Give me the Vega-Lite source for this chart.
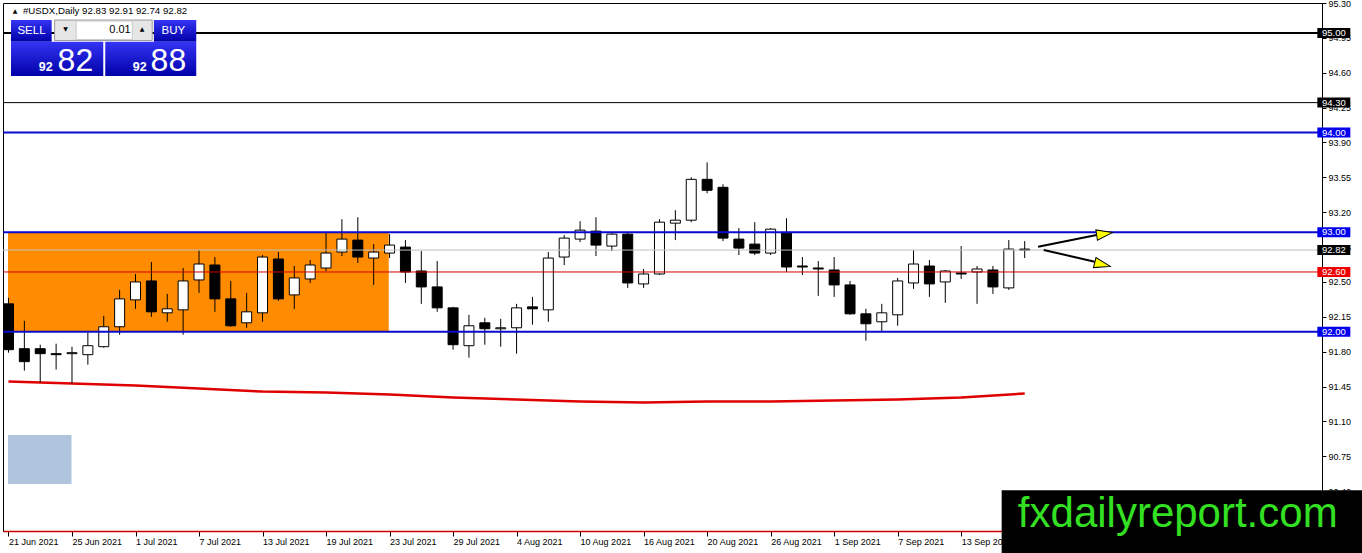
{
  "$schema": "https://vega.github.io/schema/vega-lite/v6.json",
  "description": "USDX daily candlestick chart, 21 Jun 2021 to 17 Sep 2021, with horizontal levels and range box.",
  "width": 1319,
  "height": 528,
  "autosize": {"type": "none"},
  "padding": {"left": 3, "top": 3, "right": 40, "bottom": 22},
  "background": "white",
  "config": {
    "view": {"stroke": "#000000", "strokeWidth": 1},
    "axis": {"labelOverlap": false, "labelSeparation": 0}
  },
  "datasets": {
    "candles": [
      {"i":0,"d":"2021-06-21","o":92.28,"h":92.34,"l":91.79,"c":91.82},
      {"i":1,"d":"2021-06-22","o":91.83,"h":92.11,"l":91.61,"c":91.70},
      {"i":2,"d":"2021-06-23","o":91.83,"h":91.87,"l":91.49,"c":91.78},
      {"i":3,"d":"2021-06-24","o":91.78,"h":91.88,"l":91.62,"c":91.77},
      {"i":4,"d":"2021-06-25","o":91.78,"h":91.85,"l":91.48,"c":91.79},
      {"i":5,"d":"2021-06-28","o":91.77,"h":91.99,"l":91.67,"c":91.86},
      {"i":6,"d":"2021-06-29","o":91.85,"h":92.16,"l":91.84,"c":92.05},
      {"i":7,"d":"2021-06-30","o":92.05,"h":92.42,"l":91.97,"c":92.33},
      {"i":8,"d":"2021-07-01","o":92.32,"h":92.58,"l":92.23,"c":92.50},
      {"i":9,"d":"2021-07-02","o":92.51,"h":92.70,"l":92.15,"c":92.20},
      {"i":10,"d":"2021-07-05","o":92.19,"h":92.38,"l":92.10,"c":92.23},
      {"i":11,"d":"2021-07-06","o":92.22,"h":92.64,"l":91.97,"c":92.51},
      {"i":12,"d":"2021-07-07","o":92.52,"h":92.82,"l":92.39,"c":92.68},
      {"i":13,"d":"2021-07-08","o":92.67,"h":92.75,"l":92.20,"c":92.33},
      {"i":14,"d":"2021-07-09","o":92.33,"h":92.51,"l":92.05,"c":92.06},
      {"i":15,"d":"2021-07-12","o":92.09,"h":92.39,"l":92.04,"c":92.20},
      {"i":16,"d":"2021-07-13","o":92.19,"h":92.77,"l":92.10,"c":92.75},
      {"i":17,"d":"2021-07-14","o":92.73,"h":92.80,"l":92.31,"c":92.33},
      {"i":18,"d":"2021-07-15","o":92.37,"h":92.66,"l":92.23,"c":92.54},
      {"i":19,"d":"2021-07-16","o":92.53,"h":92.72,"l":92.49,"c":92.67},
      {"i":20,"d":"2021-07-19","o":92.64,"h":92.99,"l":92.61,"c":92.79},
      {"i":21,"d":"2021-07-20","o":92.80,"h":93.13,"l":92.76,"c":92.93},
      {"i":22,"d":"2021-07-21","o":92.92,"h":93.15,"l":92.69,"c":92.75},
      {"i":23,"d":"2021-07-22","o":92.74,"h":92.88,"l":92.47,"c":92.80},
      {"i":24,"d":"2021-07-23","o":92.79,"h":92.98,"l":92.74,"c":92.87},
      {"i":25,"d":"2021-07-26","o":92.85,"h":92.92,"l":92.49,"c":92.60},
      {"i":26,"d":"2021-07-27","o":92.61,"h":92.81,"l":92.28,"c":92.45},
      {"i":27,"d":"2021-07-28","o":92.45,"h":92.71,"l":92.20,"c":92.24},
      {"i":28,"d":"2021-07-29","o":92.24,"h":92.25,"l":91.82,"c":91.87},
      {"i":29,"d":"2021-07-30","o":91.86,"h":92.17,"l":91.74,"c":92.06},
      {"i":30,"d":"2021-08-02","o":92.09,"h":92.14,"l":91.87,"c":92.03},
      {"i":31,"d":"2021-08-03","o":92.03,"h":92.13,"l":91.85,"c":92.04},
      {"i":32,"d":"2021-08-04","o":92.04,"h":92.28,"l":91.78,"c":92.24},
      {"i":33,"d":"2021-08-05","o":92.25,"h":92.35,"l":92.07,"c":92.23},
      {"i":34,"d":"2021-08-06","o":92.22,"h":92.80,"l":92.10,"c":92.74},
      {"i":35,"d":"2021-08-09","o":92.75,"h":92.97,"l":92.67,"c":92.94},
      {"i":36,"d":"2021-08-10","o":92.93,"h":93.11,"l":92.90,"c":93.02},
      {"i":37,"d":"2021-08-11","o":93.01,"h":93.15,"l":92.76,"c":92.87},
      {"i":38,"d":"2021-08-12","o":92.86,"h":92.99,"l":92.81,"c":92.98},
      {"i":39,"d":"2021-08-13","o":92.98,"h":92.99,"l":92.44,"c":92.49},
      {"i":40,"d":"2021-08-16","o":92.48,"h":92.63,"l":92.44,"c":92.58},
      {"i":41,"d":"2021-08-17","o":92.58,"h":93.13,"l":92.57,"c":93.10},
      {"i":42,"d":"2021-08-18","o":93.09,"h":93.22,"l":92.92,"c":93.12},
      {"i":43,"d":"2021-08-19","o":93.12,"h":93.55,"l":93.10,"c":93.53},
      {"i":44,"d":"2021-08-20","o":93.53,"h":93.70,"l":93.39,"c":93.42},
      {"i":45,"d":"2021-08-23","o":93.45,"h":93.48,"l":92.91,"c":92.94},
      {"i":46,"d":"2021-08-24","o":92.93,"h":93.04,"l":92.77,"c":92.84},
      {"i":47,"d":"2021-08-25","o":92.88,"h":93.10,"l":92.77,"c":92.79},
      {"i":48,"d":"2021-08-26","o":92.79,"h":93.04,"l":92.77,"c":93.03},
      {"i":49,"d":"2021-08-27","o":92.99,"h":93.14,"l":92.60,"c":92.65},
      {"i":50,"d":"2021-08-30","o":92.66,"h":92.75,"l":92.57,"c":92.65},
      {"i":51,"d":"2021-08-31","o":92.64,"h":92.71,"l":92.36,"c":92.63},
      {"i":52,"d":"2021-09-01","o":92.62,"h":92.75,"l":92.35,"c":92.47},
      {"i":53,"d":"2021-09-02","o":92.47,"h":92.51,"l":92.17,"c":92.18},
      {"i":54,"d":"2021-09-03","o":92.18,"h":92.23,"l":91.91,"c":92.08},
      {"i":55,"d":"2021-09-06","o":92.10,"h":92.28,"l":92.00,"c":92.19},
      {"i":56,"d":"2021-09-07","o":92.17,"h":92.54,"l":92.06,"c":92.51},
      {"i":57,"d":"2021-09-08","o":92.49,"h":92.82,"l":92.43,"c":92.68},
      {"i":58,"d":"2021-09-09","o":92.66,"h":92.72,"l":92.35,"c":92.48},
      {"i":59,"d":"2021-09-10","o":92.50,"h":92.62,"l":92.29,"c":92.61},
      {"i":60,"d":"2021-09-13","o":92.59,"h":92.86,"l":92.53,"c":92.58},
      {"i":61,"d":"2021-09-14","o":92.60,"h":92.66,"l":92.28,"c":92.63},
      {"i":62,"d":"2021-09-15","o":92.62,"h":92.66,"l":92.38,"c":92.45},
      {"i":63,"d":"2021-09-16","o":92.44,"h":92.92,"l":92.42,"c":92.83},
      {"i":64,"d":"2021-09-17","o":92.83,"h":92.91,"l":92.74,"c":92.82}
    ],
    "ma": [
      {"i":0,"ma":91.50},{"i":4,"ma":91.48},{"i":8,"ma":91.46},{"i":12,"ma":91.43},
      {"i":16,"ma":91.40},{"i":20,"ma":91.39},{"i":24,"ma":91.37},{"i":28,"ma":91.34},
      {"i":32,"ma":91.32},{"i":36,"ma":91.30},{"i":40,"ma":91.29},{"i":44,"ma":91.30},
      {"i":48,"ma":91.30},{"i":52,"ma":91.31},{"i":56,"ma":91.32},{"i":60,"ma":91.34},
      {"i":64,"ma":91.38}
    ],
    "levels": [
      {"p":95.00,"t":"major"},
      {"p":94.30,"t":"minor"},
      {"p":94.00,"t":"range"},
      {"p":93.00,"t":"range"},
      {"p":92.82,"t":"bid"},
      {"p":92.60,"t":"pivot"},
      {"p":92.00,"t":"range"}
    ]
  },
  "layer": [
    {
      "data": {"values": [{}]},
      "mark": {"type": "rect", "color": "#b0c4de"},
      "encoding": {
        "x": {"datum": -0.03, "type": "quantitative"},
        "x2": {"datum": 3.97},
        "y": {"datum": 90.963, "type": "quantitative"},
        "y2": {"datum": 90.472}
      }
    },
    {
      "data": {"values": [{}]},
      "mark": {"type": "rect", "color": "#ff8c00"},
      "encoding": {
        "x": {"datum": -0.03, "type": "quantitative"},
        "x2": {"datum": 23.95},
        "y": {"datum": 92.0, "type": "quantitative"},
        "y2": {"datum": 93.0}
      }
    },
    {
      "data": {"name": "ma"},
      "mark": {"type": "line", "color": "#e00000", "strokeWidth": 2.5},
      "encoding": {
        "x": {"field": "i", "type": "quantitative", "title": null},
        "y": {"field": "ma", "type": "quantitative", "title": null}
      }
    },
    {
      "data": {"name": "candles"},
      "mark": {"type": "rule", "color": "#000000", "strokeWidth": 1, "clip": true},
      "encoding": {
        "x": {
          "field": "i", "type": "quantitative", "title": null,
          "scale": {"domain": [-0.03, 82.41], "nice": false, "zero": false},
          "axis": {
            "values": [0,4,8,12,16,20,24,28,32,36,40,44,48,52,56,60,64],
            "tickCount": 40,
            "labelExpr": "['21 Jun 2021','25 Jun 2021','1 Jul 2021','7 Jul 2021','13 Jul 2021','19 Jul 2021','23 Jul 2021','29 Jul 2021','4 Aug 2021','10 Aug 2021','16 Aug 2021','20 Aug 2021','26 Aug 2021','1 Sep 2021','7 Sep 2021','13 Sep 2021','17 Sep 2021'][round(datum.value/4)]",
            "labelAlign": "left", "labelBaseline": "top", "labelPadding": 1,
            "labelFlush": false, "labelOverlap": false, "labelBound": false,
            "labelFont": "Liberation Sans", "labelFontSize": 9, "labelColor": "#000000",
            "tickSize": 5, "tickColor": "#000000", "tickWidth": 1,
            "domainColor": "#cc0000", "domainWidth": 1.5, "grid": false, "title": null
          }
        },
        "y": {
          "field": "l", "type": "quantitative", "title": null,
          "scale": {"domain": [90.0, 95.3], "nice": false, "zero": false},
          "axis": {
            "orient": "right",
            "values": [95.30,94.95,94.60,94.25,93.90,93.55,93.20,92.85,92.50,92.15,91.80,91.45,91.10,90.75,90.40,90.05],
            "tickCount": 40,
            "labelExpr": "format(datum.value, '.2f')",
            "labelAlign": "left", "labelBaseline": "middle", "labelPadding": 2,
            "labelFont": "Liberation Sans", "labelFontSize": 9, "labelColor": "#000000",
            "labelOverlap": false, "labelSeparation": 0, "labelFlush": false, "labelBound": false,
            "tickSize": 4, "tickColor": "#000000", "domainColor": "#000000", "grid": false, "title": null
          }
        },
        "y2": {"field": "h"}
      }
    },
    {
      "data": {"name": "candles"},
      "mark": {"type": "bar", "width": 10, "stroke": "#000000", "strokeWidth": 1, "clip": true},
      "encoding": {
        "x": {"field": "i", "type": "quantitative", "title": null},
        "y": {"field": "o", "type": "quantitative", "title": null},
        "y2": {"field": "c"},
        "fill": {"condition": {"test": "datum.c >= datum.o", "value": "#ffffff"}, "value": "#000000"}
      }
    },
    {
      "data": {"name": "levels"},
      "transform": [{"filter": "datum.t == 'major' || datum.t == 'range'"}],
      "mark": {"type": "rule", "strokeWidth": 2},
      "encoding": {
        "y": {"field": "p", "type": "quantitative", "title": null},
        "stroke": {"field": "t", "type": "nominal", "legend": null,
          "scale": {"domain": ["major","minor","range","bid","pivot"], "range": ["#000000","#000000","#0a0acd","#c0c0c0","#d00000"]}}
      }
    },
    {
      "data": {"name": "levels"},
      "transform": [{"filter": "datum.t == 'minor' || datum.t == 'bid' || datum.t == 'pivot'"}],
      "mark": {"type": "rule", "strokeWidth": 1},
      "encoding": {
        "y": {"field": "p", "type": "quantitative", "title": null},
        "stroke": {"field": "t", "type": "nominal", "legend": null}
      }
    },
    {
      "data": {"values": [
        {"a":1,"x":64.845,"y":92.854},{"a":1,"x":68.53,"y":92.971},
        {"a":2,"x":65.20,"y":92.821},{"a":2,"x":68.41,"y":92.703}
      ]},
      "mark": {"type": "line", "color": "#000000", "strokeWidth": 2},
      "encoding": {
        "x": {"field": "x", "type": "quantitative", "title": null},
        "y": {"field": "y", "type": "quantitative", "title": null},
        "detail": {"field": "a"}
      }
    },
    {
      "data": {"values": [{}]},
      "mark": {"type": "point", "shape": "M1,0L-1,-0.65L-1,0.65Z", "size": 256, "filled": true, "fill": "#ffff00", "stroke": "#000000", "strokeWidth": 1, "opacity": 1, "angle": 351},
      "encoding": {
        "x": {"datum": 69.03, "type": "quantitative"},
        "y": {"datum": 92.983, "type": "quantitative"}
      }
    },
    {
      "data": {"values": [{}]},
      "mark": {"type": "point", "shape": "M1,0L-1,-0.65L-1,0.65Z", "size": 256, "filled": true, "fill": "#ffff00", "stroke": "#000000", "strokeWidth": 1, "opacity": 1, "angle": 14},
      "encoding": {
        "x": {"datum": 68.90, "type": "quantitative"},
        "y": {"datum": 92.675, "type": "quantitative"}
      }
    },
    {
      "data": {"name": "levels"},
      "mark": {"type": "tick", "orient": "horizontal", "size": 33, "thickness": 10, "opacity": 1},
      "encoding": {
        "x": {"datum": 83.47, "type": "quantitative"},
        "y": {"field": "p", "type": "quantitative", "title": null},
        "fill": {"field": "t", "type": "nominal", "legend": null,
          "scale": {"domain": ["major","minor","range","bid","pivot"], "range": ["#000000","#000000","#0000ee","#000000","#ee0000"]}}
      }
    },
    {
      "data": {"name": "levels"},
      "mark": {"type": "text", "color": "#ffffff", "font": "Liberation Sans", "fontSize": 9.5, "align": "center", "baseline": "middle"},
      "encoding": {
        "x": {"datum": 83.47, "type": "quantitative"},
        "y": {"field": "p", "type": "quantitative", "title": null},
        "text": {"field": "p", "type": "quantitative", "format": ".2f"}
      }
    },
    {
      "data": {"values": [{}]},
      "mark": {"type": "rect", "color": "#000000"},
      "encoding": {
        "x": {"datum": 62.55, "type": "quantitative"},
        "x2": {"datum": 86},
        "y": {"datum": 90.41, "type": "quantitative"},
        "y2": {"datum": 89.7}
      }
    },
    {
      "data": {"values": [{"t": "fxdailyreport.com"}]},
      "mark": {"type": "text", "color": "#33e022", "font": "Liberation Sans", "fontSize": 42, "align": "center", "baseline": "alphabetic"},
      "encoding": {
        "x": {"datum": 73.64, "type": "quantitative"},
        "y": {"datum": 90.043, "type": "quantitative"},
        "text": {"field": "t"}
      }
    },
    {
      "data": {"values": [
        {"x":0.158,"x2":2.72,"y":95.129,"y2":94.91},
        {"x":9.158,"x2":11.826,"y":95.129,"y2":94.91},
        {"x":0.158,"x2":5.97,"y":94.91,"y2":94.567},
        {"x":6.095,"x2":11.826,"y":94.91,"y2":94.567}
      ]},
      "mark": {"type": "rect", "color": {"gradient": "linear", "x1": 0, "y1": 0, "x2": 0, "y2": 1,
        "stops": [{"offset": 0, "color": "#3434f4"}, {"offset": 1, "color": "#0000a8"}]}},
      "encoding": {
        "x": {"field": "x", "type": "quantitative", "title": null},
        "x2": {"field": "x2"},
        "y": {"field": "y", "type": "quantitative", "title": null},
        "y2": {"field": "y2"}
      }
    },
    {
      "data": {"values": [{"x":2.908,"x2":9.051,"y":95.129,"y2":94.924}]},
      "mark": {"type": "rect", "fill": "#e6e6e6", "stroke": "#9a9a9a", "strokeWidth": 1},
      "encoding": {
        "x": {"field": "x", "type": "quantitative", "title": null},
        "x2": {"field": "x2"},
        "y": {"field": "y", "type": "quantitative", "title": null},
        "y2": {"field": "y2"}
      }
    },
    {
      "data": {"values": [{"x":4.264,"x2":7.801,"y":95.119,"y2":94.934}]},
      "mark": {"type": "rect", "fill": "#ffffff", "stroke": "#c8c8c8", "strokeWidth": 1},
      "encoding": {
        "x": {"field": "x", "type": "quantitative", "title": null},
        "x2": {"field": "x2"},
        "y": {"field": "y", "type": "quantitative", "title": null},
        "y2": {"field": "y2"}
      }
    },
    {
      "data": {"values": [{"x":1.45,"y":95.021,"t":"SELL"},{"x":10.39,"y":95.021,"t":"BUY"}]},
      "mark": {"type": "text", "color": "#ffffff", "font": "Liberation Sans", "fontSize": 11.5, "align": "center", "baseline": "middle"},
      "encoding": {
        "x": {"field": "x", "type": "quantitative", "title": null},
        "y": {"field": "y", "type": "quantitative", "title": null},
        "text": {"field": "t"}
      }
    },
    {
      "data": {"values": [{"x":2.78,"y":94.617,"t":"92"},{"x":8.70,"y":94.617,"t":"92"}]},
      "mark": {"type": "text", "color": "#ffffff", "font": "Liberation Sans", "fontSize": 12.5, "fontWeight": "bold", "align": "right", "baseline": "alphabetic"},
      "encoding": {
        "x": {"field": "x", "type": "quantitative", "title": null},
        "y": {"field": "y", "type": "quantitative", "title": null},
        "text": {"field": "t"}
      }
    },
    {
      "data": {"values": [{"x":3.095,"y":94.617,"t":"82"},{"x":8.95,"y":94.617,"t":"88"}]},
      "mark": {"type": "text", "color": "#ffffff", "font": "Liberation Sans", "fontSize": 32, "align": "left", "baseline": "alphabetic"},
      "encoding": {
        "x": {"field": "x", "type": "quantitative", "title": null},
        "y": {"field": "y", "type": "quantitative", "title": null},
        "text": {"field": "t"}
      }
    },
    {
      "data": {"values": [{"x":7.70,"y":95.029,"t":"0.01"}]},
      "mark": {"type": "text", "color": "#000000", "font": "Liberation Sans", "fontSize": 11, "align": "right", "baseline": "middle"},
      "encoding": {
        "x": {"field": "x", "type": "quantitative", "title": null},
        "y": {"field": "y", "type": "quantitative", "title": null},
        "text": {"field": "t"}
      }
    },
    {
      "data": {"values": [{"x":3.595,"y":95.035,"t":"▼"},{"x":8.407,"y":95.035,"t":"▲"},{"x":0.41,"y":95.22,"t":"▲"}]},
      "mark": {"type": "text", "color": "#000000", "font": "DejaVu Sans", "fontSize": 6, "align": "center", "baseline": "middle"},
      "encoding": {
        "x": {"field": "x", "type": "quantitative", "title": null},
        "y": {"field": "y", "type": "quantitative", "title": null},
        "text": {"field": "t"}
      }
    },
    {
      "data": {"values": [{"x":0.908,"y":95.22,"t":"#USDX,Daily  92.83 92.91 92.74 92.82"}]},
      "mark": {"type": "text", "color": "#000000", "font": "Liberation Sans", "fontSize": 9.7, "align": "left", "baseline": "middle"},
      "encoding": {
        "x": {"field": "x", "type": "quantitative", "title": null},
        "y": {"field": "y", "type": "quantitative", "title": null},
        "text": {"field": "t"}
      }
    }
  ]
}
